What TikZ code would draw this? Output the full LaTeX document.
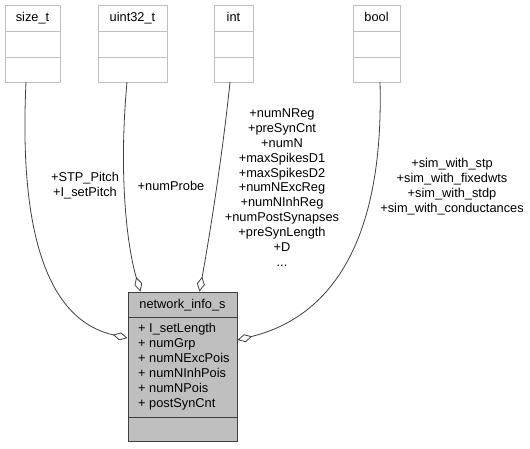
\documentclass[tikz,border=0pt]{standalone}
\usepackage{fontspec}
\setmainfont{Liberation Sans}
\usetikzlibrary{calc}
\usetikzlibrary{arrows.meta}
\definecolor{edgegray}{HTML}{404040}
\definecolor{boxgray}{HTML}{BFBFBF}
\tikzstyle{aggr}=[draw=edgegray,line width=0.8pt,-{Diamond[fill=white,length=15pt,width=8pt]}]
\tikzstyle{memberlist}=[align=center,inner sep=0pt]
\tikzstyle{typetitle}=[inner sep=0pt,text height=9pt,text depth=3pt]
\newcommand{\typebox}[5]{% Syntax: {name}{left x}{right x}{type name}{x where the edge leaves}
  \draw[boxgray,line width=1pt,fill=white] (#2,5) rectangle (#3,82);
  \draw[boxgray,line width=1pt] (#2,31) -- (#3,31) (#2,57) -- (#3,57);
  \node[typetitle] (#1) at ({(#2+#3)/2},18) {#4};
  \coordinate (#1 foot) at (#5,82);
}
\begin{document}
\begin{tikzpicture}[x=1pt,y=-1pt,font=\fontsize{12.8}{14.9}\selectfont]
	\useasboundingbox (0,0) rectangle (530,448);
	\begin{scope}
	\typebox{sizet}{5}{60}{size\_t}{26}
	\typebox{uint}{98}{167}{uint32\_t}{127}
	\typebox{int}{214}{253}{int}{230}
	\typebox{bool}{353}{400}{bool}{380}
	\end{scope}
	% the struct itself
	\node[draw=edgegray,fill=boxgray,line width=1pt,minimum width=109pt,minimum height=149pt,inner sep=0pt] (netinfo) at (182.5,366.5) {};
	\draw[edgegray,line width=1pt] ($(netinfo.north west)+(0,26)$) -- ($(netinfo.north east)+(0,26)$);
	\draw[edgegray,line width=1pt] ($(netinfo.south west)+(0,-24)$) -- ($(netinfo.south east)+(0,-24)$);
	\node[typetitle] (netinfotitle) at (182.5,305) {network\_info\_s};
	\foreach \attr [count=\i] in {I\_setLength,numGrp,numNExcPois,numNInhPois,numNPois,postSynCnt}
	  \node[anchor=base west,inner sep=0pt] (attr\i) at (138,{332.5+15*(\i-1)}) {+ \attr};
	% aggregation edges
	\draw[aggr] (sizet foot) .. controls (18,250) and (55,322) .. ($(netinfo.west)+(0,-28.5)$);
	\draw[aggr] (uint foot) .. controls (118,180) and (128,250) .. ($(netinfo.north west)+(13,0)$);
	\draw[aggr] (int foot) .. controls (222,160) and (208,245) .. ($(netinfo.north west)+(72,0)$);
	\draw[aggr] (bool foot) .. controls (385,270) and (310,322) .. ($(netinfo.east)+(0,-26.5)$);
	% member names on the edges
	\node[memberlist] (sizetlbl) at (85,185.5) {+STP\_Pitch\\+I\_setPitch};
	\node[memberlist] (uintlbl) at (171,186) {+numProbe};
	\node[memberlist] (intlbl) at (282,187.5) {+numNReg\\+preSynCnt\\+numN\\+maxSpikesD1\\+maxSpikesD2\\+numNExcReg\\+numNInhReg\\+numPostSynapses\\+preSynLength\\+D\\...};
	\node[memberlist] (boollbl) at (452,186.5) {+sim\_with\_stp\\+sim\_with\_fixedwts\\+sim\_with\_stdp\\+sim\_with\_conductances};
\end{tikzpicture}
\end{document}
